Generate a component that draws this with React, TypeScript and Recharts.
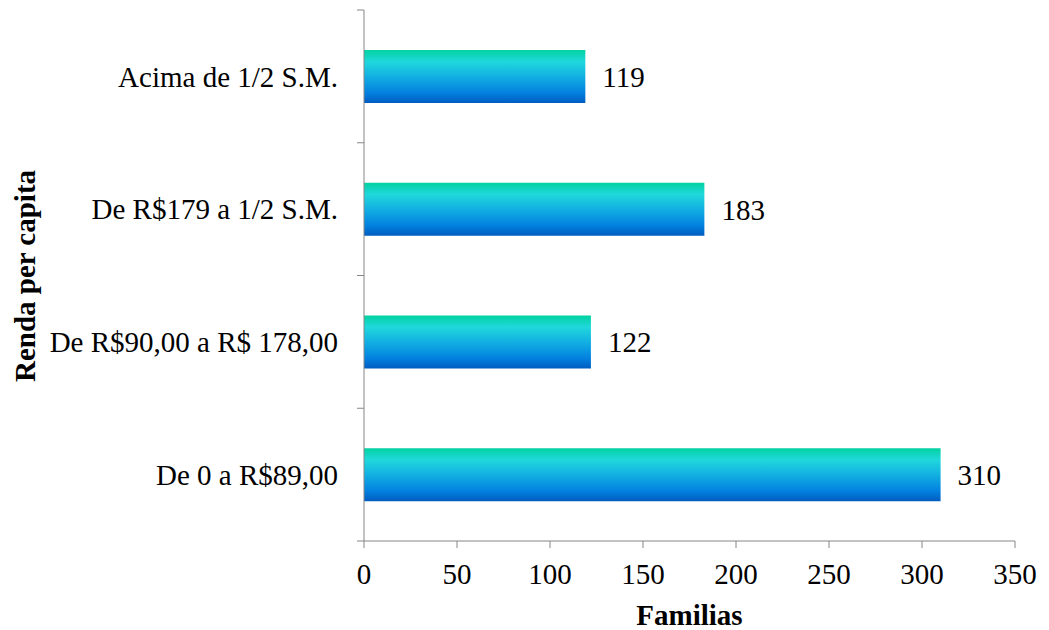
import { BarChart, Bar, XAxis, YAxis, LabelList } from 'recharts';

const categories = ['Acima de 1/2 S.M.', 'De R$179 a 1/2 S.M.', 'De R$90,00 a R$ 178,00', 'De 0 a R$89,00'];
const familias = [119, 183, 122, 310];
const xTicks = [0, 50, 100, 150, 200, 250, 300, 350];
// category boundaries on a 0..3 index scale
const bandTicks = [0, 0.75, 1.5, 2.25, 3];

const data = categories.map((name, i) => ({ name, familias: familias[i] }));

const FONT = '"Liberation Serif", "Times New Roman", serif';
const AXIS = '#868686';
const FS = 29;

export default function App() {
  return (
    <div style={{ position: 'absolute', left: 0, top: 0, fontFamily: FONT }}>
      <BarChart
        width={1049}
        height={630}
        data={data}
        layout="vertical"
        margin={{ top: 10, right: 34, bottom: 0, left: 0 }}
      >
        <defs>
          <linearGradient id="barGrad" x1="0" y1="0" x2="0" y2="1">
            <stop offset="0%" stopColor="#02d2a0" />
            <stop offset="22%" stopColor="#20d8dc" />
            <stop offset="50%" stopColor="#12b0e2" />
            <stop offset="80%" stopColor="#0382e0" />
            <stop offset="100%" stopColor="#005cc0" />
          </linearGradient>
        </defs>
        {/* boundary ticks between the categories, Excel style */}
        <YAxis
          yAxisId="band"
          type="number"
          domain={[0, 3]}
          ticks={bandTicks}
          allowDataOverflow
          width={1}
          tick={() => <g />}
          tickSize={7}
          stroke={AXIS}
        />
        <YAxis
          yAxisId="cat"
          type="category"
          dataKey="name"
          width={363}
          axisLine={false}
          tickLine={false}
          tickSize={0}
          tickMargin={25}
          tick={{ fontSize: FS, fill: '#000', fontFamily: FONT }}
          label={{
            content: () => (
              <text
                x={25}
                y={276}
                transform="rotate(-90 25 276)"
                textAnchor="middle"
                dominantBaseline="central"
                fontSize={FS}
                fontWeight="bold"
                fontFamily={FONT}
                fill="#000"
              >
                Renda per capita
              </text>
            ),
          }}
        />
        <XAxis
          type="number"
          domain={[0, 350]}
          ticks={xTicks}
          height={89}
          stroke={AXIS}
          tickSize={7}
          tickMargin={15}
          tick={{ fontSize: FS, fill: '#000', fontFamily: FONT }}
          label={{
            content: () => (
              <text
                x={689.5}
                y={625}
                textAnchor="middle"
                fontSize={FS}
                fontWeight="bold"
                fontFamily={FONT}
                fill="#000"
              >
                Familias
              </text>
            ),
          }}
        />
        <Bar dataKey="familias" yAxisId="cat" barSize={53} fill="url(#barGrad)" isAnimationActive={false}>
          <LabelList
            dataKey="familias"
            position="right"
            offset={17}
            style={{ fontSize: FS, fill: '#000', fontFamily: FONT }}
          />
        </Bar>
      </BarChart>
    </div>
  );
}
